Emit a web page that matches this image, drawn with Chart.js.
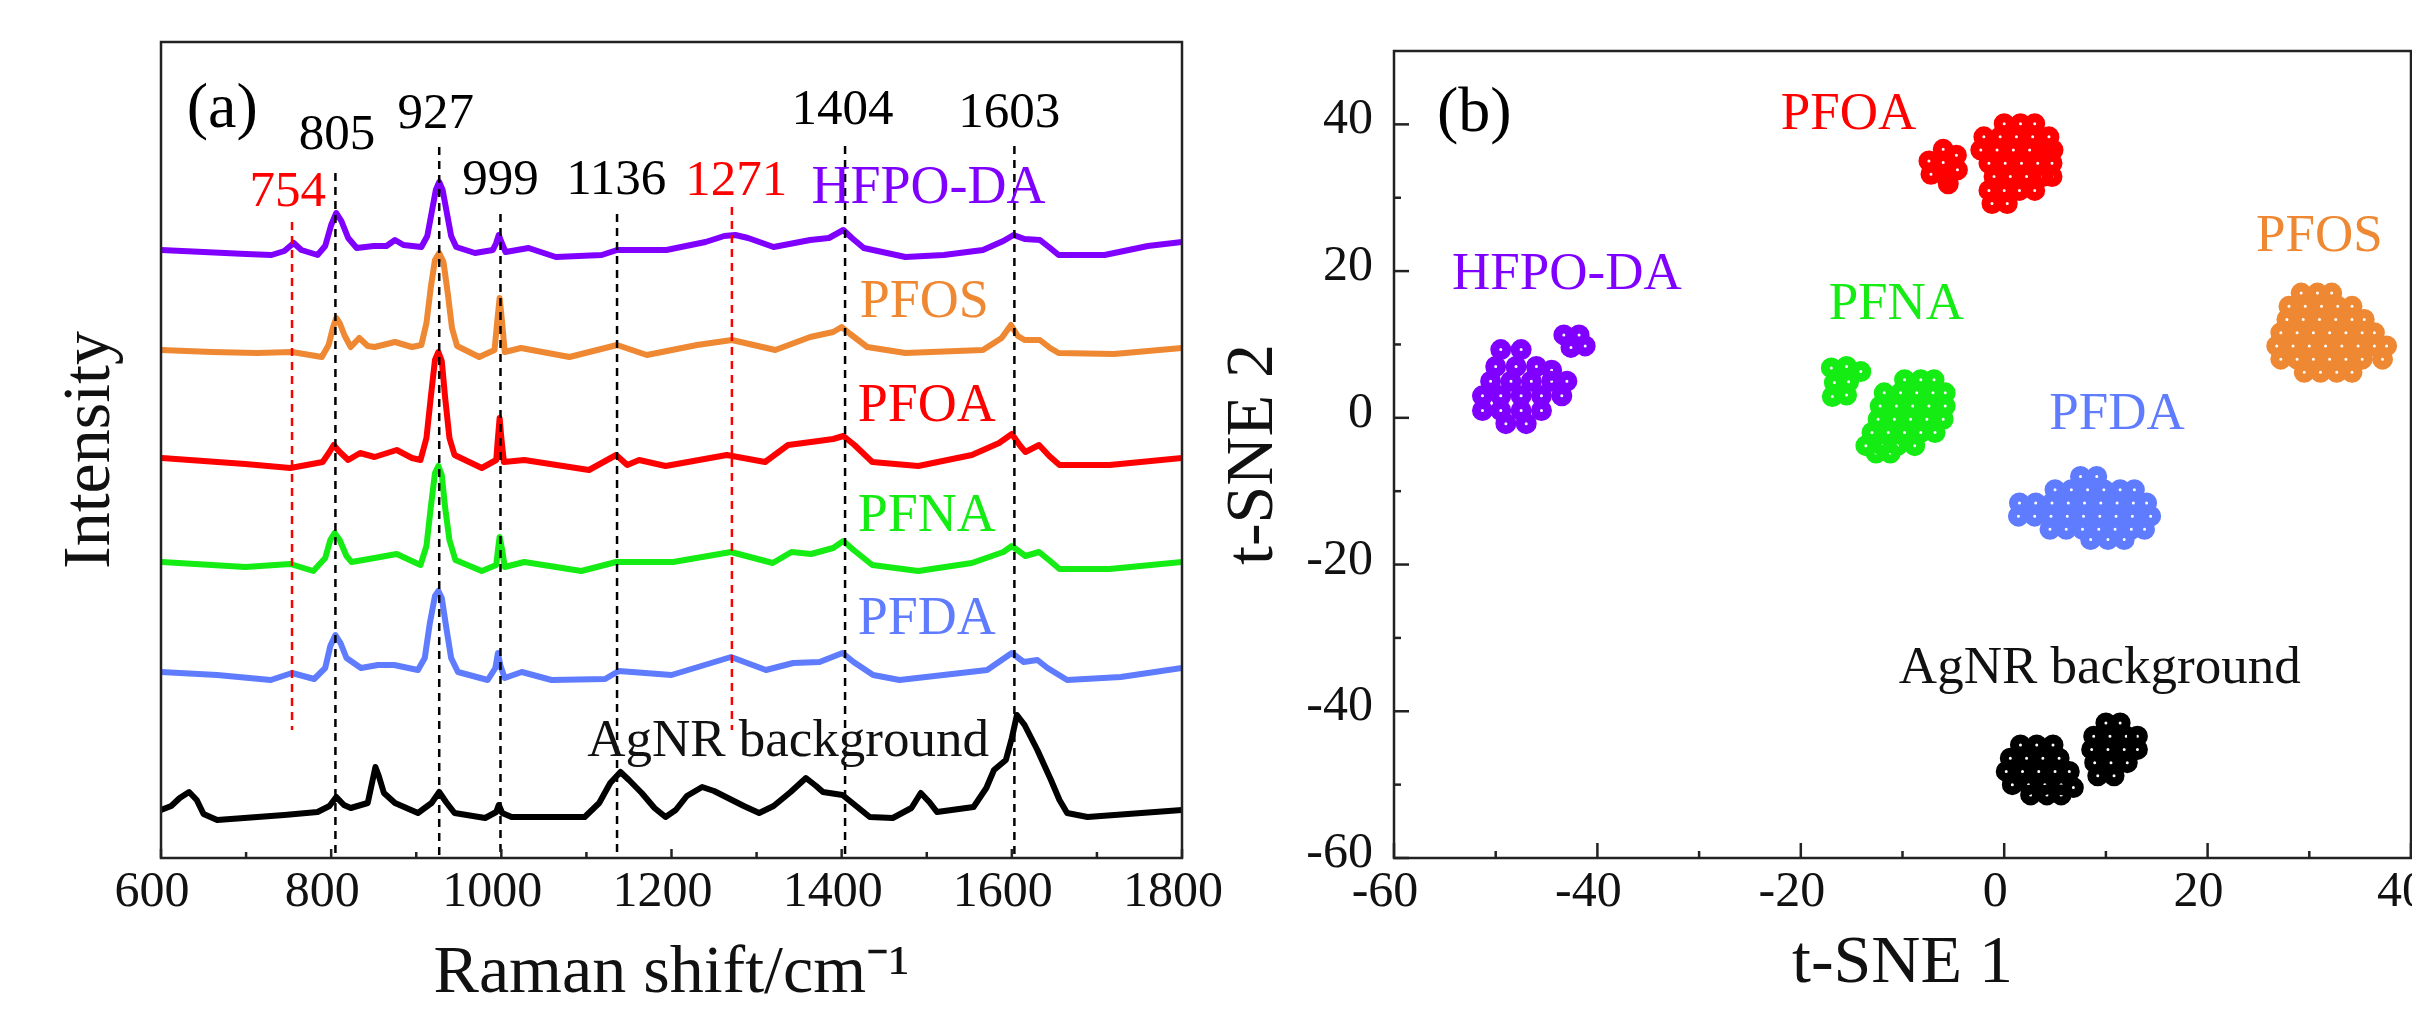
<!DOCTYPE html>
<html><head><meta charset="utf-8">
<script src="https://cdn.jsdelivr.net/npm/chart.js@4.4.1/dist/chart.umd.min.js"></script>
<style>
html,body{margin:0;padding:0;background:#fff;width:2412px;height:1012px;overflow:hidden;position:relative}
canvas{position:absolute;top:0}
#c1{left:0}
#c2{left:1200px}
</style></head><body>
<canvas id="c1" width="1240" height="1012" style="width:1240px;height:1012px"></canvas>
<canvas id="c2" width="1280" height="1012" style="width:1280px;height:1012px"></canvas>
<script>
// ---------- Panel (a): Raman spectra (x = Raman shift, y = offset intensity, a.u.) ----------
const specHFPODA = [[600,608],[650,606],[700,604],[730,603],[745,607],[756,615],[765,608],[784,603],[793,612],[800,633],[806,645],[812,637],[820,620],[830,610],[850,612],[865,612],[875,618],[885,613],[906,611],[913,622],[918,645],[923,668],[927,676],[931,668],[936,645],[941,622],[947,611],[969,605],[990,608],[994,615],[997,623],[1001,614],[1005,606],[1032,610],[1064,601],[1118,603],[1136,608],[1194,608],[1240,616],[1262,622],[1275,623],[1290,620],[1320,611],[1363,618],[1385,620],[1402,628],[1412,620],[1426,610],[1475,601],[1520,603],[1566,608],[1590,617],[1602,623],[1615,619],[1633,618],[1645,610],[1655,603],[1709,603],[1760,612],[1800,616]];
const specPFOS = [[600,508],[660,506],[713,505],[754,506],[789,501],[797,513],[802,530],[806,540],[810,535],[816,522],[823,511],[833,520],[843,512],[851,511],[875,516],[895,511],[906,513],[912,535],[917,570],[922,598],[927,605],[932,596],[937,565],[942,530],[948,512],[974,501],[992,508],[995,535],[998,560],[1001,535],[1004,506],[1023,510],[1080,501],[1136,513],[1171,503],[1230,513],[1271,518],[1322,508],[1363,521],[1390,526],[1400,531],[1410,524],[1430,511],[1475,505],[1566,508],[1588,520],[1599,533],[1607,522],[1615,518],[1633,518],[1645,510],[1655,505],[1720,504],[1800,510]];
const specPFOA = [[601,400],[699,394],[752,390],[790,396],[798,406],[803,413],[809,407],[820,398],[834,405],[851,401],[877,408],[895,400],[905,398],[912,420],[917,460],[922,498],[926,506],[930,497],[934,460],[939,420],[945,403],[977,390],[994,398],[996,420],[998,440],[1000,420],[1003,396],[1027,398],[1103,388],[1135,403],[1148,393],[1162,398],[1193,392],[1265,403],[1310,396],[1337,413],[1364,416],[1390,419],[1402,422],[1415,413],[1436,396],[1490,392],[1553,403],[1585,415],[1600,424],[1610,412],[1616,406],[1632,413],[1644,402],[1656,393],[1715,393],[1800,400]];
const specPFNA = [[601,296],[699,291],[752,294],[779,287],[793,300],[799,318],[804,325],[810,318],[818,302],[824,296],[851,300],[877,304],[905,293],[912,312],[917,350],[922,385],[926,392],[930,383],[934,350],[939,318],[946,298],[977,287],[994,293],[996,308],[998,321],[1001,308],[1004,291],[1027,296],[1094,287],[1135,296],[1202,296],[1270,306],[1319,295],[1341,306],[1364,304],[1390,310],[1402,317],[1414,308],[1436,293],[1490,287],[1553,295],[1590,306],[1600,312],[1616,302],[1632,306],[1645,297],[1656,289],[1715,289],[1800,296]];
const specPFDA = [[600,186],[666,183],[729,178],[754,185],[780,179],[793,190],[799,212],[805,223],[811,215],[818,200],[835,190],[855,193],[874,193],[902,188],[910,200],[916,235],[922,262],[926,267],[930,260],[935,232],[941,200],[949,186],[984,178],[993,190],[996,205],[999,192],[1004,180],[1024,186],[1059,178],[1122,179],[1138,187],[1200,183],[1270,201],[1311,188],[1343,195],[1374,196],[1401,205],[1414,196],[1437,183],[1468,178],[1571,188],[1600,205],[1614,196],[1630,198],[1642,190],[1665,178],[1728,181],[1800,190]];
const specAgNR = [[600,48],[612,52],[622,60],[633,66],[642,58],[650,44],[666,38],[745,43],[784,46],[798,52],[806,61],[815,53],[823,50],[843,55],[848,75],[852,91],[856,82],[862,65],[875,55],[902,45],[918,55],[927,66],[935,56],[945,45],[981,40],[994,46],[997,53],[1001,45],[1012,41],[1098,41],[1115,55],[1128,75],[1140,86],[1150,78],[1165,65],[1180,50],[1193,41],[1205,48],[1218,62],[1236,71],[1250,67],[1264,61],[1285,52],[1303,45],[1320,52],[1340,66],[1358,80],[1370,72],[1378,66],[1401,63],[1417,52],[1433,41],[1460,40],[1482,50],[1493,65],[1503,56],[1512,46],[1555,51],[1570,70],[1579,88],[1593,98],[1600,120],[1606,143],[1615,133],[1630,108],[1646,78],[1656,58],[1665,45],[1689,41],[1800,48]];

// marked peaks (cm-1) with dashed guide extents (a.u.)
const peakPositions = [754, 805, 927, 999, 1136, 1271, 1404, 1603];
const peakLineTop   = [636, 685, 711, 644, 644, 651, 712, 712];
const peakLineBot   = [128,   0,   0,   0,   0, 128,   0,   0];
const peakIsRed     = [true,false,false,false,false,true,false,false];

const ramanTicksMajor = [600, 800, 1000, 1200, 1400, 1600, 1800];
const ramanTicksMinor = [700, 900, 1100, 1300, 1500, 1700];

// ---------- Panel (b): t-SNE embedding ----------
const tsneHFPODA = [[-49.5,9.3],[-47.5,9.3],[-50,7],[-48,7],[-46,7],[-44.5,6.5],[-50.5,5],[-48.5,5],[-46.5,5],[-44.5,5],[-43,5],[-51.3,3],[-49.5,3],[-47.5,3],[-45.5,3],[-43.5,3],[-51.3,1],[-49.5,1],[-47.5,1],[-45.5,1],[-49,-0.8],[-47,-0.8],[-43.3,11.3],[-41.8,11.3],[-42.6,9.6],[-41.2,9.8]];
const tsnePFOA = [[-7.4,35],[-6,36.6],[-4.7,35.8],[-6,34.8],[-7.2,33.2],[-5.8,33],[-4.6,33.8],[-5.5,31.9],[0,40.1],[1.6,40.1],[3,40.1],[-2,38.3],[-0.4,38.3],[1.2,38.3],[2.8,38.3],[4.4,38.3],[-2.3,36.5],[-0.7,36.5],[0.9,36.5],[2.5,36.5],[4.1,36.5],[4.8,36.5],[-1.5,34.7],[0.1,34.7],[1.7,34.7],[3.3,34.7],[4.7,34.7],[-1,32.9],[0.6,32.9],[2.2,32.9],[3.8,32.9],[4.7,32.9],[-1.5,31],[0,31],[1.5,31],[3,31],[-1.2,29.2],[0.3,29.2]];
const tsnePFNA = [[-17,6.8],[-15.5,7],[-14.1,6.3],[-16.7,4.8],[-15.3,4.9],[-16.9,2.9],[-15.5,3.1],[-9.8,5.2],[-8.2,5.2],[-6.9,5.2],[-11.8,3.4],[-10.2,3.4],[-8.6,3.4],[-7,3.4],[-5.8,3.4],[-12.2,1.6],[-10.6,1.6],[-9,1.6],[-7.4,1.6],[-5.8,1.6],[-12.4,-0.2],[-10.8,-0.2],[-9.2,-0.2],[-7.6,-0.2],[-6,-0.2],[-13,-2],[-11.4,-2],[-9.8,-2],[-8.2,-2],[-6.8,-2],[-13.6,-3.8],[-12,-3.8],[-10.5,-3.8],[-8.8,-3.8],[-12.6,-4.8],[-11.2,-4.8]];
const tsnePFDA = [[7.5,-8],[9.1,-8],[5,-9.8],[6.6,-9.8],[8.2,-9.8],[9.8,-9.8],[11.4,-9.8],[12.8,-9.8],[1.5,-11.6],[3.1,-11.6],[4.7,-11.6],[6.3,-11.6],[7.9,-11.6],[9.5,-11.6],[11.1,-11.6],[12.7,-11.6],[14,-11.6],[1.4,-13.4],[3,-13.4],[4.6,-13.4],[6.2,-13.4],[7.8,-13.4],[9.4,-13.4],[11,-13.4],[12.6,-13.4],[14.4,-13.4],[4.5,-15.2],[6.1,-15.2],[7.7,-15.2],[9.3,-15.2],[10.9,-15.2],[12.5,-15.2],[13.8,-15.2],[8.5,-16.6],[10.2,-16.6],[11.8,-16.6]];
const tsnePFOS = [[29.2,17],[30.8,17],[32.2,17],[28,15.2],[29.6,15.2],[31.2,15.2],[32.8,15.2],[34.2,15.2],[27.8,13.4],[29.4,13.4],[31,13.4],[32.6,13.4],[34.2,13.4],[35.4,13.4],[27.2,11.6],[28.8,11.6],[30.4,11.6],[32,11.6],[33.6,11.6],[35.2,11.6],[36.4,11.6],[26.8,9.8],[28.4,9.8],[30,9.8],[31.6,9.8],[33.2,9.8],[34.8,9.8],[36.4,9.8],[37.6,9.8],[27.2,8],[28.8,8],[30.4,8],[32,8],[33.6,8],[35.2,8],[37.2,8],[29.5,6.2],[31.1,6.2],[32.7,6.2],[34.2,6.2]];
const tsneAgNR = [[1.6,-44.6],[3.2,-44.6],[4.8,-44.6],[0.6,-46.4],[2.2,-46.4],[3.8,-46.4],[5.4,-46.4],[0.2,-48.2],[1.8,-48.2],[3.4,-48.2],[5,-48.2],[6.4,-48.2],[0.8,-50],[2.4,-50],[4,-50],[5.6,-50],[6.8,-50.4],[2.6,-51.4],[4.2,-51.4],[5.6,-51.4],[10,-41.6],[11.4,-41.6],[8.8,-43.4],[10.4,-43.4],[12,-43.4],[13.1,-43.4],[8.6,-45.2],[10.2,-45.2],[11.8,-45.2],[13.1,-45.2],[8.9,-47],[10.5,-47],[12.1,-47],[9.2,-48.8],[10.8,-48.8]];

const tsneTicksMajor = [-60, -40, -20, 0, 20, 40];
const tsneTicksMinor = [-50, -30, -10, 10, 30];

// ---------- styling ----------
const FONT = '"Liberation Serif", "Times New Roman", serif';
const COL = {hfpo:'#8000ff', pfos:'#ee8833', pfoa:'#ff0000', pfna:'#14ec14', pfda:'#5f7cff', agnr:'#000000', red:'#ff0000', black:'#000000'};
const toXY = a => a.map(p => ({x:p[0], y:p[1]}));
const plain = v => String(v);

function frameTicks(bottom, left) {
  return {
    id: 'frameTicks',
    afterDatasetsDraw(chart) {
      const {ctx, chartArea: a, scales} = chart;
      ctx.save();
      ctx.strokeStyle = '#222';
      ctx.lineWidth = 2.5;
      ctx.strokeRect(a.left, a.top, a.right - a.left, a.bottom - a.top);
      bottom.forEach(t => {
        const x = scales.x.getPixelForValue(t.v);
        ctx.beginPath(); ctx.moveTo(x, a.bottom); ctx.lineTo(x, a.bottom - t.len); ctx.stroke();
      });
      left.forEach(t => {
        const y = scales.y.getPixelForValue(t.v);
        ctx.beginPath(); ctx.moveTo(a.left, y); ctx.lineTo(a.left + t.len, y); ctx.stroke();
      });
      ctx.restore();
    }
  };
}
function textLayer(items) {
  return {
    id: 'textLayer',
    afterDatasetsDraw(chart) {
      const {ctx, scales: {x, y}} = chart;
      ctx.save();
      ctx.textAlign = 'center';
      ctx.textBaseline = 'middle';
      items.forEach(it => {
        ctx.font = it.size + 'px ' + FONT;
        ctx.fillStyle = it.color;
        ctx.fillText(it.text, x.getPixelForValue(it.x), y.getPixelForValue(it.y));
      });
      ctx.restore();
    }
  };
}

// ---------- chart (a) ----------
const dsA = [];
peakPositions.forEach((p, i) => {
  dsA.push({data: [{x:p, y:peakLineTop[i]}, {x:p, y:peakLineBot[i]}], showLine: true, pointRadius: 0,
    borderColor: peakIsRed[i] ? COL.red : COL.black, borderWidth: 2.5, borderDash: [8, 6], order: 0});
});
[[specHFPODA, COL.hfpo],[specPFOS, COL.pfos],[specPFOA, COL.pfoa],[specPFNA, COL.pfna],[specPFDA, COL.pfda],[specAgNR, COL.agnr]]
 .forEach(([d, c]) => dsA.push({data: toXY(d), showLine: true, pointRadius: 0, borderColor: c, borderWidth: 6, borderJoinStyle: 'round', tension: 0, order: 1}));

const labelsA = [
  {text:'(a)', x:672, y:748, color:'#000', size:64},
  {text:'805', x:807, y:722, color:'#000', size:51},
  {text:'927', x:923, y:743, color:'#000', size:51},
  {text:'999', x:999, y:677, color:'#000', size:51},
  {text:'1136', x:1135, y:677, color:'#000', size:51},
  {text:'1271', x:1276, y:676, color:COL.red, size:51},
  {text:'754', x:749, y:665, color:COL.red, size:51},
  {text:'1404', x:1401, y:747, color:'#000', size:51},
  {text:'1603', x:1597, y:744, color:'#000', size:51},
  {text:'HFPO-DA', x:1502, y:669, color:COL.hfpo, size:54},
  {text:'PFOS', x:1497, y:555, color:COL.pfos, size:54},
  {text:'PFOA', x:1500, y:451, color:COL.pfoa, size:54},
  {text:'PFNA', x:1500, y:341, color:COL.pfna, size:54},
  {text:'PFDA', x:1500, y:238, color:COL.pfda, size:54},
  {text:'AgNR background', x:1337, y:116, color:'#111', size:53}
];

new Chart(document.getElementById('c1'), {
  type: 'scatter',
  data: {datasets: dsA},
  options: {
    responsive: false, animation: false, devicePixelRatio: 1,
    layout: {padding: {top: 42, right: 58, left: 0, bottom: 0}},
    plugins: {legend: {display: false}, tooltip: {enabled: false}},
    scales: {
      x: {type: 'linear', min: 600, max: 1800,
          ticks: {stepSize: 200, autoSkip: false, maxRotation: 0, padding: 5, labelOffset: -9, color: '#111', font: {family: FONT, size: 50}, callback: plain},
          grid: {display: false, drawTicks: false}, border: {display: false},
          title: {display: true, text: 'Raman shift/cm\u207B\u00B9', color: '#111', font: {family: FONT, size: 68}, padding: {top: 0, bottom: -3}},
          afterFit: s => { s.height = 154; }},
      y: {type: 'linear', min: 0, max: 816,
          ticks: {display: false}, grid: {display: false, drawTicks: false}, border: {display: false},
          title: {display: true, text: 'Intensity', color: '#111', font: {family: FONT, size: 68}, padding: {top: 50, bottom: 0}},
          afterFit: s => { s.width = 161; }}
    }
  },
  plugins: [frameTicks(ramanTicksMajor.map(v => ({v, len: 9})).concat(ramanTicksMinor.map(v => ({v, len: 6}))), []), textLayer(labelsA)]
});

// ---------- chart (b) ----------
const ring = c => ({pointRadius: 6, pointBorderWidth: 9, pointBorderColor: c, pointBackgroundColor: 'rgba(0,0,0,0)', showLine: false});
const dsB = [
  Object.assign({data: toXY(tsneHFPODA)}, ring(COL.hfpo)),
  Object.assign({data: toXY(tsnePFOA)}, ring(COL.pfoa)),
  Object.assign({data: toXY(tsnePFNA)}, ring(COL.pfna)),
  Object.assign({data: toXY(tsnePFDA)}, ring(COL.pfda)),
  Object.assign({data: toXY(tsnePFOS)}, ring(COL.pfos)),
  Object.assign({data: toXY(tsneAgNR)}, ring(COL.agnr))
];
const labelsB = [
  {text:'(b)', x:-52.1, y:41.4, color:'#000', size:64},
  {text:'PFOA', x:-15.3, y:41.2, color:COL.pfoa, size:53},
  {text:'HFPO-DA', x:-43, y:19.5, color:COL.hfpo, size:53},
  {text:'PFNA', x:-10.6, y:15.3, color:COL.pfna, size:53},
  {text:'PFOS', x:31, y:24.7, color:COL.pfos, size:53},
  {text:'PFDA', x:11.1, y:0.4, color:COL.pfda, size:53},
  {text:'AgNR background', x:9.4, y:-34.3, color:'#111', size:53}
];
new Chart(document.getElementById('c2'), {
  type: 'scatter',
  data: {datasets: dsB},
  options: {
    responsive: false, animation: false, devicePixelRatio: 1,
    layout: {padding: {top: 42, right: 69, left: 0, bottom: 0}},
    plugins: {legend: {display: false}, tooltip: {enabled: false}},
    scales: {
      x: {type: 'linear', min: -60, max: 40,
          ticks: {stepSize: 20, autoSkip: false, maxRotation: 0, padding: 5, labelOffset: -9, color: '#111', font: {family: FONT, size: 50}, callback: plain},
          grid: {display: false, drawTicks: false}, border: {display: false},
          title: {display: true, text: 't-SNE 1', color: '#111', font: {family: FONT, size: 68}, padding: {top: 0, bottom: 7}},
          afterFit: s => { s.height = 154; }},
      y: {type: 'linear', min: -60, max: 50,
          ticks: {stepSize: 20, includeBounds: false, autoSkip: false, padding: 21, labelOffset: -4, color: '#111', font: {family: FONT, size: 50}, callback: plain},
          grid: {display: false, drawTicks: false}, border: {display: false},
          title: {display: true, text: 't-SNE 2', color: '#111', font: {family: FONT, size: 68}, padding: {top: 13, bottom: 0}},
          afterFit: s => { s.width = 194; }}
    }
  },
  plugins: [frameTicks(tsneTicksMajor.map(v => ({v, len: 15})).concat(tsneTicksMinor.map(v => ({v, len: 7}))),
                       tsneTicksMajor.map(v => ({v, len: 15})).concat(tsneTicksMinor.map(v => ({v, len: 7})))), textLayer(labelsB)]
});
</script></body></html>
